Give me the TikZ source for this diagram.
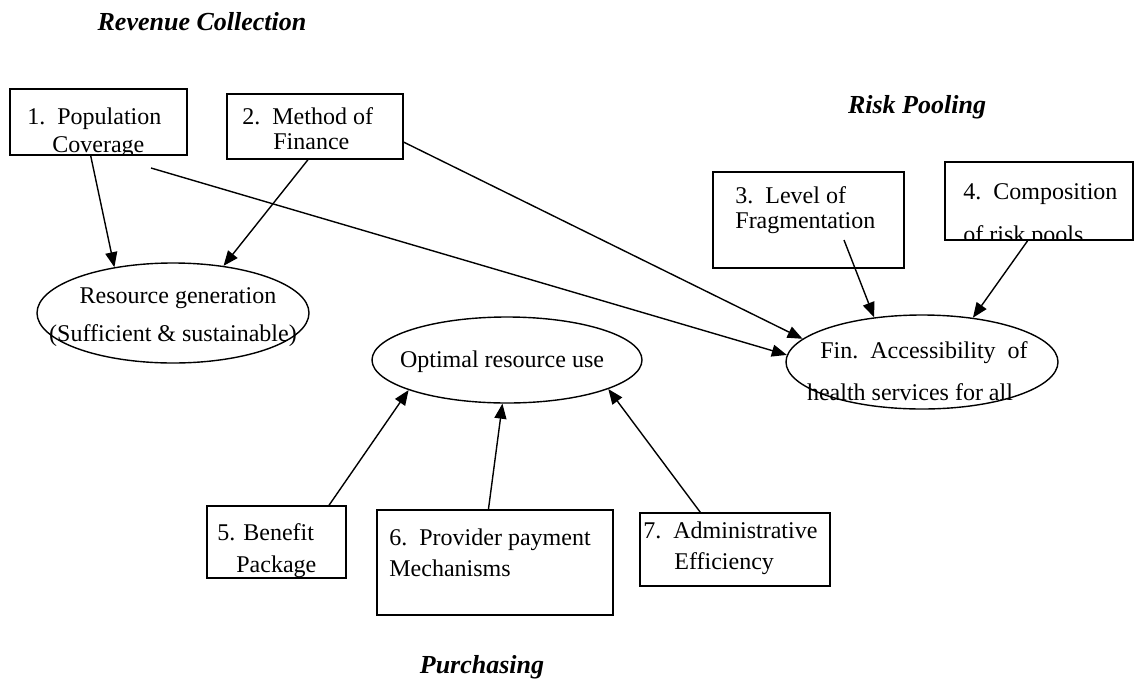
\documentclass[tikz,border=0pt]{standalone}
\usepackage{fontspec}
\setmainfont{Liberation Serif}
\usetikzlibrary{shapes.geometric,arrows.meta}

\begin{document}
\begin{tikzpicture}[x=0.5pt,y=-0.5pt,
  font=\fontsize{12}{14}\selectfont,
  box/.style={draw,line width=0.8pt,rectangle,inner sep=0pt},
  oval/.style={draw,line width=0.7pt,ellipse,inner sep=0pt},
  lbl/.style={inner sep=0pt,anchor=base west},
  mid/.style={inner sep=0pt,anchor=base},
  head/.style={font=\fontsize{13}{15}\selectfont\bfseries\itshape,inner sep=0pt,anchor=base},
  link/.style={line width=0.7pt,-{Triangle[length=7.5pt,width=6pt]}}]
\useasboundingbox (0,0) rectangle (1135,686);

% headings
\node[head] (rev) at (202,30) {Revenue Collection};
\node[head] (risk) at (917,113) {Risk Pooling};
\node[head] (pur) at (482,673) {Purchasing};

% boxes
\node[box,minimum width=88.5pt,minimum height=33pt] (b1) at (98.5,122) {};
\node[box,minimum width=88pt,minimum height=32.5pt] (b2) at (315,126.5) {};
\node[box,minimum width=95.5pt,minimum height=48pt] (b3) at (808.5,220) {};
\node[box,minimum width=94pt,minimum height=39pt] (b4) at (1039,201) {};
\node[box,minimum width=69.5pt,minimum height=36pt] (b5) at (276.5,542) {};
\node[box,minimum width=118pt,minimum height=52.5pt] (b6) at (495,562.5) {};
\node[box,minimum width=95pt,minimum height=36.5pt] (b7) at (735,549.5) {};

\begin{scope}
\clip (b1.south west) rectangle (b1.north east);
\node[lbl] (t1a) at (27,124) {1.~~Population};
\node[lbl] (t1b) at (52,152) {Coverage};
\end{scope}
\node[lbl] (t2a) at (242,124) {2.~~Method of};
\node[lbl] (t2b) at (273,149) {Finance};
\node[lbl] (t3a) at (735,203) {3.~~Level of};
\node[lbl] (t3b) at (735,228) {Fragmentation};
\begin{scope}
\clip (b4.south west) rectangle (b4.north east);
\node[lbl] (t4a) at (963,199) {4.~~Composition};
\node[lbl] (t4b) at (963,242) {of risk pools};
\end{scope}
\begin{scope}
\clip (b5.south west) rectangle (b5.north east);
\node[lbl] (t5a) at (217,540) {5. Benefit};
\node[lbl] (t5b) at (236,572) {Package};
\end{scope}
\node[lbl] (t6a) at (389,545) {6.~~Provider payment};
\node[lbl] (t6b) at (389,576) {Mechanisms};
\node[lbl] (t7a) at (643,538) {7.~~Administrative};
\node[lbl] (t7b) at (674,569) {Efficiency};

% ovals
\node[oval,minimum width=136pt,minimum height=50pt] (e1) at (173,313) {};
\node[oval,minimum width=135pt,minimum height=43pt] (e2) at (507,360) {};
\node[oval,minimum width=136pt,minimum height=47pt] (e3) at (922,362) {};

\node[mid] (t8a) at (178,303) {Resource generation};
\node[mid] (t8b) at (173,341) {(Sufficient \& sustainable)};
\node[mid] (t9) at (502,367) {Optimal resource use};
\node[mid] (t10a) at (924,358) {Fin.~~Accessibility~~of};
\node[mid] (t10b) at (910,400) {health services for all};

% arrows
\coordinate (c1) at (151,168);
\coordinate (c3) at (844,240);
\draw[link] (b1.-103) -- (e1.142);
\draw[link] (b2.-102) -- (e1.43);
\draw[link] (c1) -- (e3.177.5);
\draw[link] (b2.-10.5) -- (e3.169);
\draw[link] (c3) -- (e3.137);
\draw[link] (b4.-106) -- (e3.41);
\draw[link] (b5.35) -- (e2.197);
\draw[link] (b6.97.6) -- (e2.264.7);
\draw[link] (b7.133.8) -- (e2.-16);

\end{tikzpicture}
\end{document}
